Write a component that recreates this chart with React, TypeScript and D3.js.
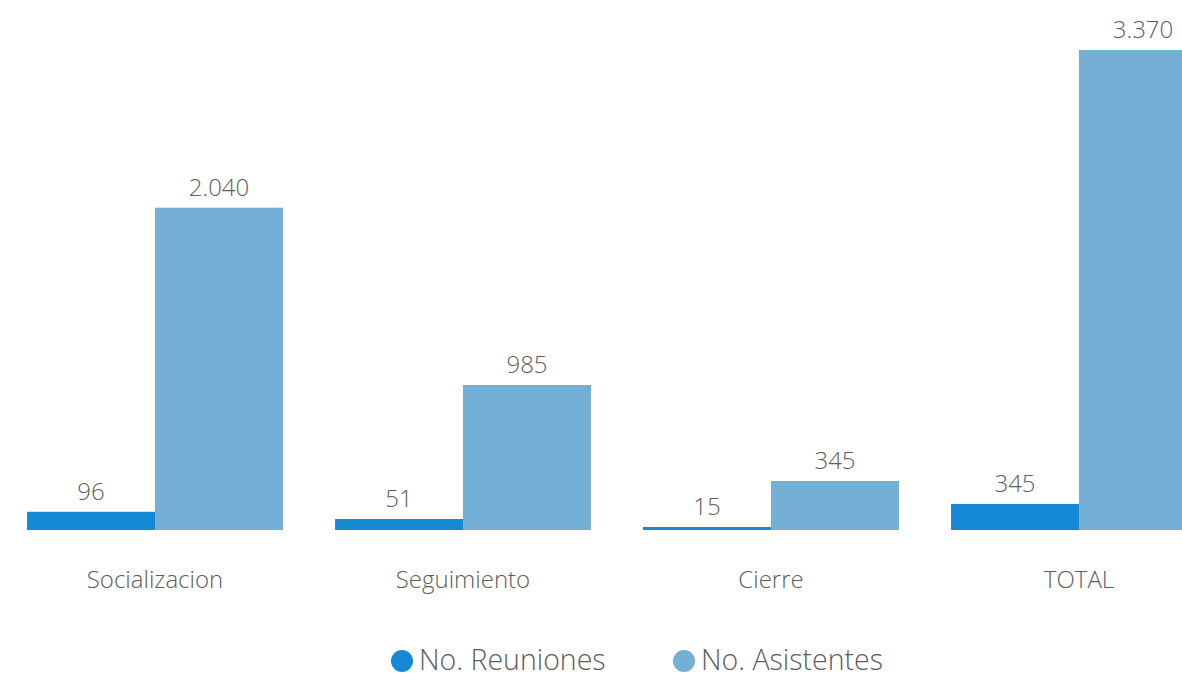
import React from "react";
import * as d3 from "d3";

const categories = ["Socializacion", "Seguimiento", "Cierre", "TOTAL"];
const seriesNames = ["No. Reuniones", "No. Asistentes"];
// bar heights as drawn in the picture
const reunionesValues = [128, 77, 21, 183];
const asistentesValues = [2263, 1018, 344, 3370];
// value labels as printed in the picture
const reunionesLabels = ["96", "51", "15", "345"];
const asistentesLabels = ["2.040", "985", "345", "3.370"];
const colors = ["#1589d6", "#74afd6"];

const W = 1182;
const H = 677;
const FONT = "'Open Sans', 'Noto Sans', sans-serif";
const TEXT = "#5d5d5d";

export default function App() {
  const x0 = d3.scaleBand<string>().domain(categories).range([1, 1233]).paddingInner(0.169).paddingOuter(0.0845);
  const x1 = d3.scaleBand<string>().domain(seriesNames).range([0, x0.bandwidth()]).padding(0);
  const y = d3.scaleLinear().domain([0, 3370]).range([530, 50]);
  const series = [
    { name: seriesNames[0], values: reunionesValues, labels: reunionesLabels, color: colors[0] },
    { name: seriesNames[1], values: asistentesValues, labels: asistentesLabels, color: colors[1] },
  ];
  const legendItems = [
    { name: seriesNames[0], color: colors[0], cx: 402 },
    { name: seriesNames[1], color: colors[1], cx: 684 },
  ];
  return (
    <svg width={W} height={H} style={{ position: "absolute", left: 0, top: 0, background: "#fff" }} fontFamily={FONT}>
      {categories.map((c, i) => (
        <g key={c} transform={`translate(${x0(c)},0)`}>
          {series.map((s) => (
            <g key={s.name}>
              <rect x={x1(s.name)} y={y(s.values[i])} width={x1.bandwidth()} height={y(0) - y(s.values[i])} fill={s.color} />
              <text
                x={(x1(s.name) as number) + x1.bandwidth() / 2}
                y={y(s.values[i]) - 12}
                textAnchor="middle"
                fontSize={24}
                fontWeight={300}
                fill={TEXT}
              >
                {s.labels[i]}
              </text>
            </g>
          ))}
          <text x={x0.bandwidth() / 2} y={588} textAnchor="middle" fontSize={24} fontWeight={300} fill={TEXT}>
            {c}
          </text>
        </g>
      ))}
      {legendItems.map((l) => (
        <g key={l.name}>
          <circle cx={l.cx} cy={661} r={11} fill={l.color} />
          <text x={l.cx + 17} y={670} fontSize={28.5} fontWeight={300} fill={TEXT}>
            {l.name}
          </text>
        </g>
      ))}
    </svg>
  );
}
